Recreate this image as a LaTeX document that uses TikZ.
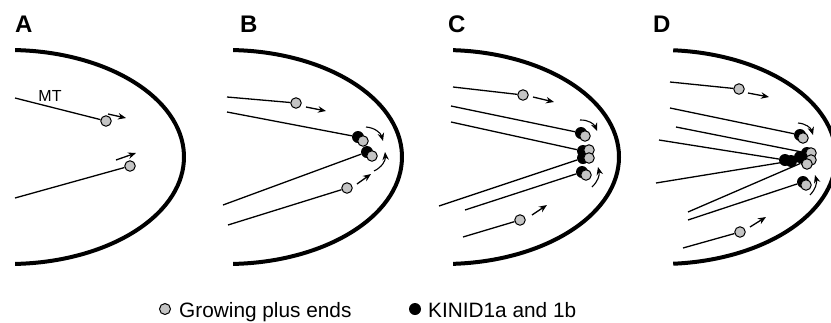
\documentclass[tikz,border=0pt]{standalone}
\usepackage{fontspec}
\setmainfont{Liberation Sans}
\usetikzlibrary{arrows.meta}
\definecolor{plusgray}{HTML}{C4C4C4}

\tikzset{
  cellwall/.style={line width=4pt},
  mt/.style={line width=1.3pt},
  plusend/.style={circle, draw, fill=plusgray, line width=1pt, minimum size=10.5pt, inner sep=0pt},
  kinid/.style={circle, fill=black, minimum size=12pt, inner sep=0pt},
  growth/.style={line width=1.3pt, -{Stealth[length=8pt,width=6.5pt]}},
  panel/.style={anchor=base west, inner sep=0pt, font=\fontsize{24}{24}\selectfont\bfseries},
  legend/.style={anchor=base west, inner sep=0pt, font=\fontsize{20.8}{24}\selectfont},
}

\begin{document}
\begin{tikzpicture}[x=1pt,y=1pt]
  \clip (0,0) rectangle (831,-322);
  % panel labels
  \node[panel] (la) at (15,-32) {A}; \node[panel] (lb) at (240,-32) {B};
  \node[panel] (lc) at (448,-32) {C}; \node[panel] (ld) at (653,-32) {D};
  % cell tips
  \draw[cellwall] (9,-157) ++(88:175pt and 107pt) arc[start angle=88, end angle=-88, x radius=175pt, y radius=107pt];
  \draw[cellwall] (227,-157) ++(88:175pt and 107pt) arc[start angle=88, end angle=-88, x radius=175pt, y radius=107pt];
  \draw[cellwall] (444,-157) ++(87:175pt and 107pt) arc[start angle=87, end angle=-87, x radius=175pt, y radius=107pt];
  \draw[cellwall] (661,-157) ++(86:175pt and 107pt) arc[start angle=86, end angle=-86, x radius=175pt, y radius=107pt];

  % A: two growing microtubules
  \coordinate (a1) at (15,-98); \coordinate (a2) at (15,-198);
  \node[plusend] (a1p) at (106,-121) {}; \node[plusend] (a2p) at (130,-166) {};
  \draw[mt] (a1) -- (a1p); \draw[mt] (a2) -- (a2p);
  \node[inner sep=0pt, font=\fontsize{16}{16}\selectfont] (mt) at (50,-96) {MT};
  \draw[growth] (108,-114) -- (126,-118);
  \draw[growth] (116,-160) -- (136,-153);

  % B: first plus ends reach the tip
  \coordinate (b1) at (227,-97); \coordinate (b2) at (227,-112);
  \coordinate (b3) at (223,-205); \coordinate (b4) at (228,-225);
  \node[plusend] (b1p) at (296,-103) {};
  \node[kinid] (b2k) at (358,-137) {}; \node[plusend] (b2p) at (363,-141) {};
  \node[kinid] (b3k) at (367,-152) {}; \node[plusend] (b3p) at (372,-156) {};
  \node[plusend] (b4p) at (347,-188) {};
  \draw[mt] (b1) -- (b1p); \draw[mt] (b2) -- (b2k);
  \draw[mt] (b3) -- (b3k); \draw[mt] (b4) -- (b4p);
  \draw[growth] (306,-107) -- (326,-111);
  \draw[growth] (357,-184) -- (371,-174);
  \draw[growth, line width=1.1pt] (366,-127) to[bend left=35] (383,-141);
  \draw[growth, line width=1.1pt] (374,-171) to[bend right=35] (385,-152);

  % C: more plus ends gather at the tip
  \coordinate (c1) at (453,-87); \coordinate (c2) at (451,-106); \coordinate (c3) at (451,-122);
  \coordinate (c4) at (439,-206); \coordinate (c5) at (465,-210); \coordinate (c6) at (463,-237);
  \node[plusend] (c1p) at (523,-95) {};
  \node[kinid] (c2k) at (581,-133) {}; \node[plusend] (c2p) at (585,-136) {};
  \node[kinid] (c3k) at (583,-151) {}; \node[kinid] (c4k) at (583,-158) {};
  \node[plusend] (c3p) at (589,-150) {}; \node[plusend] (c4p) at (589,-158) {};
  \node[kinid] (c5k) at (582,-172) {}; \node[plusend] (c5p) at (586,-175) {};
  \node[plusend] (c6p) at (520,-220) {};
  \draw[mt] (c1) -- (c1p); \draw[mt] (c2) -- (c2k); \draw[mt] (c3) -- (c3k);
  \draw[mt] (c4) -- (c4k); \draw[mt] (c5) -- (c5k); \draw[mt] (c6) -- (c6p);
  \draw[growth] (533,-97) -- (554,-102);
  \draw[growth] (532,-215) -- (547,-205);
  \draw[growth, line width=1.1pt] (580,-120) to[bend left=35] (597,-131);
  \draw[growth, line width=1.1pt] (592,-187) to[bend right=30] (598,-167);

  % D: crowded tip
  \coordinate (d1) at (670,-82); \coordinate (d2) at (670,-108); \coordinate (d3) at (676,-127);
  \coordinate (d4) at (659,-140); \coordinate (d5) at (656,-183); \coordinate (d6) at (688,-212);
  \coordinate (d7) at (688,-220); \coordinate (d8) at (683,-248);
  \node[plusend] (d1p) at (739,-89) {};
  \node[kinid] (d2k) at (800,-135) {}; \node[plusend] (d2p) at (803,-138) {};
  \node[kinid] (d4k) at (785,-160) {}; \node[kinid] (d5k) at (791,-161) {};
  \node[kinid] (d0k) at (800,-157) {};
  \node[kinid] (d3k) at (807,-153) {}; \node[kinid] (d6k) at (806,-161) {};
  \node[plusend] (d3p) at (811,-153) {}; \node[plusend] (d6p) at (811,-160) {};
  \node[plusend] (d0p) at (807,-164) {};
  \node[kinid] (d7k) at (803,-182) {}; \node[plusend] (d7p) at (806,-185) {};
  \node[plusend] (d8p) at (740,-232) {};
  \draw[mt] (d1) -- (d1p); \draw[mt] (d2) -- (d2k); \draw[mt] (d3) -- (d3k);
  \draw[mt] (d4) -- (d4k); \draw[mt] (d5) -- (d5k); \draw[mt] (d6) -- (d6k);
  \draw[mt] (d7) -- (d7k); \draw[mt] (d8) -- (d8p);
  \draw[growth] (748,-93) -- (769,-97);
  \draw[growth] (750,-227) -- (766,-217);
  \draw[growth, line width=1.1pt] (798,-123) to[bend left=35] (813,-135);
  \draw[growth, line width=1.1pt] (810,-195) to[bend right=30] (815,-175);

  % legend
  \node[plusend, minimum size=11pt] (keyp) at (165,-309) {};
  \node[legend] (keyptext) at (179,-317) {Growing plus ends};
  \node[kinid] (keyk) at (415,-309) {};
  \node[legend] (keyktext) at (428,-317) {KINID1a and 1b};
\end{tikzpicture}
\end{document}
